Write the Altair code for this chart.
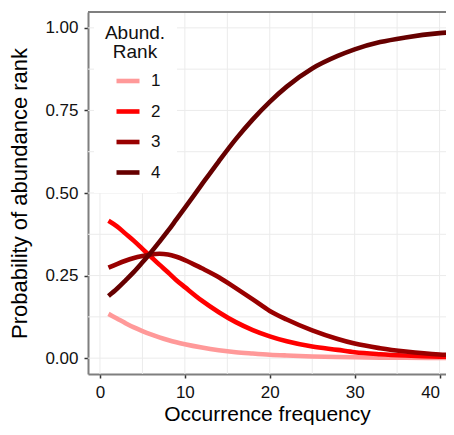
import altair as alt
import pandas as pd

# Data
occurrence = [1, 2, 3, 4, 5, 6, 7, 8, 9, 10, 12, 14, 16, 18, 20, 22, 25, 28, 30, 33, 36, 40, 42]
rank1 = [0.134, 0.120, 0.106, 0.093, 0.082, 0.072, 0.063, 0.055, 0.048, 0.042, 0.032, 0.024,
         0.018, 0.014, 0.0105, 0.008, 0.005, 0.0033, 0.0025, 0.0016, 0.0011, 0.0007, 0.0005]
rank2 = [0.416, 0.399, 0.377, 0.355, 0.331, 0.307, 0.283, 0.260, 0.236, 0.215, 0.174, 0.139,
         0.109, 0.085, 0.066, 0.051, 0.035, 0.025, 0.018, 0.012, 0.008, 0.0045, 0.0035]
rank3 = [0.274, 0.285, 0.295, 0.303, 0.309, 0.314, 0.316, 0.314, 0.307, 0.297, 0.272, 0.245,
         0.212, 0.178, 0.143, 0.117, 0.084, 0.058, 0.044, 0.030, 0.020, 0.011, 0.009]
rank4 = [0.188, 0.210, 0.235, 0.261, 0.290, 0.320, 0.352, 0.385, 0.420, 0.455, 0.526, 0.596,
         0.663, 0.723, 0.776, 0.822, 0.877, 0.915, 0.935, 0.957, 0.971, 0.984, 0.988]

ranks = ["1", "2", "3", "4"]
colors = ["#FF9999", "#FF0000", "#990000", "#660000"]

x_ticks = [0, 10, 20, 30, 40]
y_ticks = [0.0, 0.25, 0.5, 0.75, 1.0]
x_grid = [0, 5, 10, 15, 20, 25, 30, 35, 40]
y_grid = [0.0, 0.125, 0.25, 0.375, 0.5, 0.625, 0.75, 0.875, 1.0]

W, H = 358, 362
X_DOMAIN = [-1.41, -1.41 + W / 8.49]
Y_DOMAIN = [-0.048, 1.048]

rows = []
for r, series in zip(ranks, [rank1, rank2, rank3, rank4]):
    for xv, yv in zip(occurrence, series):
        rows.append({"x": xv, "p": yv, "rank": r})
df = pd.DataFrame(rows)

xscale = alt.Scale(domain=X_DOMAIN, nice=False, zero=False)
yscale = alt.Scale(domain=Y_DOMAIN, nice=False, zero=False)
xaxis = alt.Axis(values=x_ticks, title="Occurrence frequency", format="d", labelFlush=8)
yaxis = alt.Axis(values=y_ticks, title="Probability of abundance rank", format=".2f")

vgrid = alt.Chart(pd.DataFrame({"g": x_grid})).mark_rule(
    color="#EBEBEB", strokeWidth=1
).encode(x=alt.X("g:Q", scale=xscale, axis=xaxis))

hgrid = alt.Chart(pd.DataFrame({"g": y_grid})).mark_rule(
    color="#EBEBEB", strokeWidth=1
).encode(y=alt.Y("g:Q", scale=yscale, axis=yaxis))

top_border = alt.Chart(pd.DataFrame({"a": [0]})).mark_rule(
    color="#7F7F7F", strokeWidth=2
).encode(x=alt.value(0), x2=alt.value(W), y=alt.value(0))

lines = alt.Chart(df).mark_line(
    strokeWidth=4.6, clip=True, interpolate="monotone", strokeCap="butt"
).encode(
    x=alt.X("x:Q", scale=xscale, axis=xaxis),
    y=alt.Y("p:Q", scale=yscale, axis=yaxis),
    color=alt.Color("rank:N", scale=alt.Scale(domain=ranks, range=colors),
                    legend=alt.Legend(title=["Abund.", "Rank"], orient="none",
                                      legendX=6, legendY=1)),
    detail="rank:N",
)

chart = alt.layer(vgrid, hgrid, top_border, lines).properties(
    width=W, height=H,
    autosize=alt.AutoSizeParams(type="none"),
    padding={"left": 80, "top": 4, "right": 0, "bottom": 51},
).configure_view(
    stroke=None
).configure_axis(
    grid=False,
    domainColor="#7F7F7F",
    domainWidth=2,
    tickColor="#333333",
    tickWidth=1.5,
    tickSize=4,
    labelFont="Liberation Sans",
    labelFontSize=17,
    labelColor="#111111",
    titleFont="Liberation Sans",
    titleFontSize=22,
    titleFontWeight="normal",
    titleColor="#000000",
).configure_axisX(
    labelPadding=6,
    titlePadding=3,
    titleFontSize=21,
).configure_axisY(
    labelPadding=6,
    titlePadding=13,
).configure_legend(
    fillColor="white",
    padding=11,
    titleFont="Liberation Sans",
    titleFontSize=19,
    titleFontWeight="normal",
    titleColor="#111111",
    titleAnchor="middle",
    titleAlign="center",
    titleLineHeight=19,
    titlePadding=5,
    labelFont="Liberation Sans",
    labelFontSize=17,
    labelColor="#111111",
    labelOffset=9,
    symbolType="stroke",
    symbolStrokeWidth=4.6,
    symbolSize=529,
    symbolOffset=5,
    rowPadding=6.5,
)

chart.save("out.html", embed_options={"renderer": "svg", "actions": False})
